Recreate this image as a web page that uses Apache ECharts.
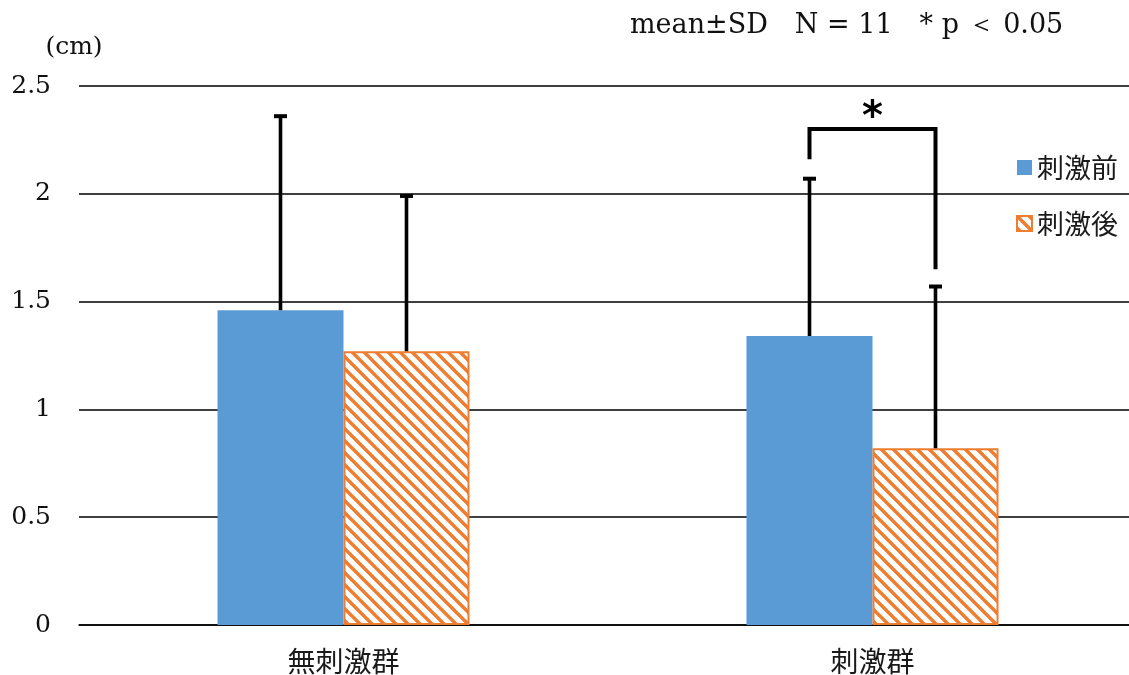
<!DOCTYPE html>
<html>
<head>
<meta charset="utf-8">
<script src="https://cdn.jsdelivr.net/npm/echarts@6/dist/echarts.min.js"></script>
<style>
  html, body { margin: 0; padding: 0; background: #fff; }
  #chart { width: 1129px; height: 675px; }
</style>
</head>
<body>
<div id="chart"></div>
<script>
// Groups and conditions
const categories = ['無刺激群', '刺激群'];
const seriesNames = ['刺激前', '刺激後'];

// Means and standard deviations (cm)
const beforeMean = [1.46, 1.34];
const beforeSD = [0.90, 0.73];
const afterMean = [1.27, 0.82];
const afterSD = [0.72, 0.75];

// Value axis ticks
const yTicks = [0, 0.5, 1, 1.5, 2, 2.5];

// Significance bracket for 刺激群 (before vs after), in cm: top bar, left foot, right foot
const sigGroup = 1;
const sigBracket = [2.3, 2.16, 1.65];
const noteText = 'mean±SD　N = 11　* p ＜ 0.05';

const BLUE = '#5B9BD5';
const ORANGE = '#ED7D31';
const BAR_W = 126;
const SERIF = '"DejaVu Serif", "Liberation Serif", serif';
const JP = '"Noto Sans CJK JP", sans-serif';

// Diagonal hatch fill for 刺激後 bars
function hatchPattern() {
  const s = 12;
  const c = document.createElement('canvas');
  c.width = s; c.height = s;
  const g = c.getContext('2d');
  g.fillStyle = '#fff';
  g.fillRect(0, 0, s, s);
  g.strokeStyle = ORANGE;
  g.lineWidth = 3.4;
  for (let k = -1; k <= 1; k++) {
    g.beginPath();
    g.moveTo(k * s - 2, -2);
    g.lineTo(k * s + s + 2, s + 2);
    g.stroke();
  }
  return { image: c, repeat: 'repeat' };
}

// Upward error bar with cap, drawn over one bar of each category
function errorSeries(means, sds, side) {
  return {
    type: 'custom',
    silent: true,
    z: 5,
    clip: false,
    encode: { x: 0, y: [1, 2] },
    data: means.map((m, i) => [i, m, m + sds[i]]),
    renderItem(params, api) {
      const i = api.value(0);
      const base = api.coord([i, api.value(1)]);
      const top = api.coord([i, api.value(2)]);
      const x = base[0] + side * BAR_W / 2;
      return {
        type: 'group',
        children: [
          { type: 'line', shape: { x1: x, y1: base[1], x2: x, y2: top[1] + 1 },
            style: { stroke: '#000', lineWidth: 3.6 } },
          { type: 'rect', shape: { x: x - 6.5, y: top[1] - 2, width: 13, height: 4 },
            style: { fill: '#000' } }
        ]
      };
    }
  };
}

// Bracket with asterisk between the two bars of the significant group
const bracketSeries = {
  type: 'custom',
  silent: true,
  z: 6,
  clip: false,
  encode: { x: 0, y: [1, 2, 3] },
  data: [[sigGroup].concat(sigBracket)],
  renderItem(params, api) {
    const i = api.value(0);
    const t = api.coord([i, api.value(1)]);
    const l = api.coord([i, api.value(2)]);
    const r = api.coord([i, api.value(3)]);
    const xl = t[0] - BAR_W / 2;
    const xr = t[0] + BAR_W / 2;
    return {
      type: 'group',
      children: [
        { type: 'polyline', shape: { points: [[xl, l[1]], [xl, t[1]], [xr, t[1]], [xr, r[1]]] },
          style: { stroke: '#000', lineWidth: 4, fill: null, lineJoin: 'miter' } },
        { type: 'text', x: (xl + xr) / 2, y: t[1] - 11,
          style: { text: '*', fontFamily: '"DejaVu Sans", sans-serif', fontSize: 40, fontWeight: 'bold',
                   fill: '#000', align: 'center', verticalAlign: 'middle' } }
      ]
    };
  }
};

const chart = echarts.init(document.getElementById('chart'), null, { renderer: 'canvas' });

chart.setOption({
  backgroundColor: '#fff',
  animation: false,
  grid: { left: 79, width: 1058, top: 86, bottom: 50, outerBoundsMode: 'none' },
  legend: {
    orient: 'vertical',
    left: 1011,
    top: 149,
    itemWidth: 15,
    itemHeight: 15,
    itemGap: 29,
    icon: 'rect',
    data: seriesNames,
    textStyle: { fontFamily: JP, fontSize: 27, color: '#1a1a1a' }
  },
  graphic: [
    { type: 'text', left: 630, top: 12,
      style: { text: noteText, fontFamily: SERIF, fontSize: 27, fill: '#111' } }
  ],
  xAxis: {
    type: 'category',
    data: categories,
    axisLine: { lineStyle: { color: '#000', width: 1.5 } },
    axisTick: { show: false },
    axisLabel: { fontFamily: JP, fontSize: 28, color: '#1a1a1a', margin: 22 }
  },
  yAxis: {
    type: 'value',
    min: yTicks[0],
    max: yTicks[yTicks.length - 1],
    interval: yTicks[1] - yTicks[0],
    name: '(cm)',
    nameLocation: 'end',
    nameGap: 26,
    nameTextStyle: { fontFamily: SERIF, fontSize: 25, color: '#111', align: 'center', padding: [0, 10, 0, 0] },
    axisLine: { show: false },
    axisTick: { show: false },
    axisLabel: { fontFamily: SERIF, fontSize: 25, color: '#111', margin: 28 },
    splitLine: { lineStyle: { color: '#000', width: 1.5 } }
  },
  series: [
    { name: seriesNames[0], type: 'bar', data: beforeMean, barWidth: BAR_W, barGap: '0%',
      itemStyle: { color: BLUE } },
    { name: seriesNames[1], type: 'bar', data: afterMean, barWidth: BAR_W, barGap: '0%',
      itemStyle: { color: hatchPattern(), borderColor: ORANGE, borderWidth: 2 } },
    errorSeries(beforeMean, beforeSD, -1),
    errorSeries(afterMean, afterSD, 1),
    bracketSeries
  ]
});
</script>
</body>
</html>
